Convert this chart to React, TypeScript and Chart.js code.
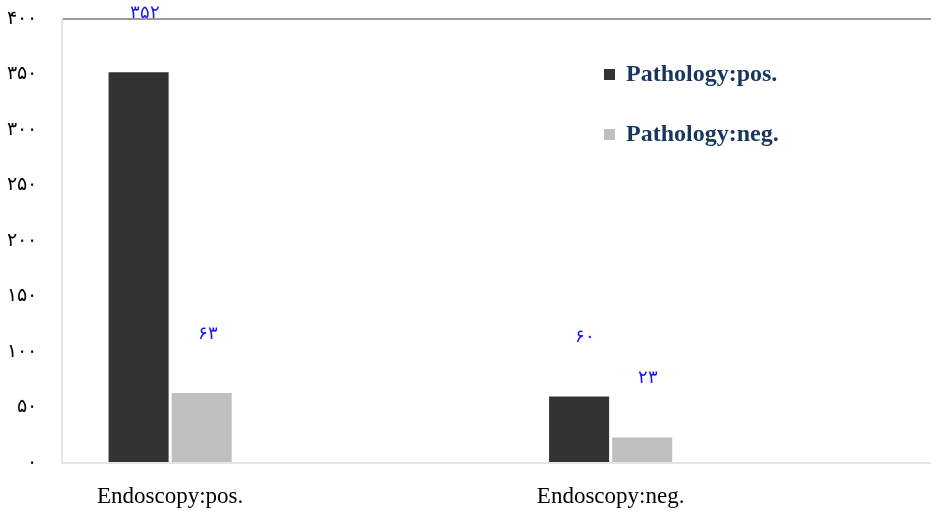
import React, { useEffect, useRef } from "react";
import { Chart, registerables } from "chart.js";

Chart.register(...registerables);

// Endoscopy result groups on the x axis
const categories = ["Endoscopy:pos.", "Endoscopy:neg."];
// Pathology result series
const seriesLabels = ["Pathology:pos.", "Pathology:neg."];
const pathologyPos = [352, 60];
const pathologyNeg = [63, 23];
const seriesColors = ["#333333", "#bfbfbf"];
// Y axis range
const yMin = 0;
const yMax = 400;
const yStep = 50;

const persianDigits = "۰۱۲۳۴۵۶۷۸۹";
const toPersian = (n: number) =>
  String(n).replace(/[0-9]/g, (d) => persianDigits[Number(d)]);

const serif = '"Times New Roman", "Liberation Serif", serif';

const valueLabels = {
  id: "valueLabels",
  afterDatasetsDraw(chart: any) {
    const { ctx } = chart;
    ctx.save();
    ctx.fillStyle = "#1414ff";
    ctx.font = `18px ${serif}`;
    ctx.textAlign = "center";
    ctx.textBaseline = "middle";
    chart.data.datasets.forEach((ds: any, di: number) => {
      const meta = chart.getDatasetMeta(di);
      meta.data.forEach((bar: any, i: number) => {
        const v = ds.data[i].y;
        ctx.fillText(toPersian(v), bar.x + 6, bar.y - 59);
      });
    });
    ctx.restore();
  },
};

const sideLegend = {
  id: "sideLegend",
  afterDraw(chart: any) {
    const { ctx } = chart;
    ctx.save();
    ctx.font = `bold 24px ${serif}`;
    ctx.textBaseline = "middle";
    ctx.textAlign = "left";
    chart.data.datasets.forEach((ds: any, i: number) => {
      const y = 75 + i * 60;
      ctx.fillStyle = ds.backgroundColor;
      ctx.fillRect(604, y - 6, 11, 11);
      ctx.fillStyle = "#17375e";
      ctx.fillText(ds.label, 626, y);
    });
    ctx.restore();
  },
};

export default function App() {
  const canvasRef = useRef<HTMLCanvasElement | null>(null);

  useEffect(() => {
    const canvas = canvasRef.current;
    if (!canvas) return;
    const series = [pathologyPos, pathologyNeg];
    const chart = new Chart(canvas, {
      type: "bar",
      data: {
        datasets: series.map((vals, si) => ({
          label: seriesLabels[si],
          data: vals.map((v, i) => ({ x: i, y: v })),
          backgroundColor: seriesColors[si],
          borderWidth: 0,
          categoryPercentage: 0.2864,
          barPercentage: 0.952,
        })),
      },
      options: {
        responsive: false,
        animation: false,
        layout: { padding: { top: 19, right: 0, bottom: 0, left: 0 } },
        plugins: {
          legend: { display: false },
          title: { display: false },
          tooltip: { enabled: false },
        },
        scales: {
          x: {
            type: "linear",
            offset: false,
            bounds: "data",
            min: -0.2455,
            max: 1.7273,
            afterBuildTicks: (scale: any) => {
              scale.ticks = categories.map((_, i) => ({ value: i }));
            },
            afterFit: (scale: any) => {
              scale.height = 48;
              scale.paddingLeft = 0;
              scale.paddingRight = 0;
            },
            grid: { display: false, drawTicks: false },
            border: { color: "#e4e4e4", width: 2 },
            ticks: {
              autoSkip: false,
              maxRotation: 0,
              padding: 20,
              color: "#000",
              font: { family: serif, size: 23 },
              callback: (v: any) => categories[Number(v)] ?? "",
            },
          },
          y: {
            min: yMin,
            max: yMax,
            afterFit: (scale: any) => {
              scale.width = 62;
              scale.paddingTop = 0;
              scale.paddingBottom = 0;
            },
            grid: {
              drawTicks: false,
              lineWidth: 2,
              color: (c: any) =>
                c.tick && c.tick.value === yMax ? "#9a9a9a" : "rgba(0,0,0,0)",
            },
            border: { color: "#e4e4e4", width: 2 },
            ticks: {
              stepSize: yStep,
              padding: 25,
              color: "#000",
              font: { family: serif, size: 19 },
              callback: (v: any) => toPersian(Number(v)),
            },
          },
        },
      },
      plugins: [valueLabels, sideLegend],
    });
    return () => chart.destroy();
  }, []);

  return (
    <div style={{ position: "absolute", left: 0, top: 0, width: 931, height: 511, background: "#fff" }}>
      <canvas ref={canvasRef} width={931} height={511} />
    </div>
  );
}
